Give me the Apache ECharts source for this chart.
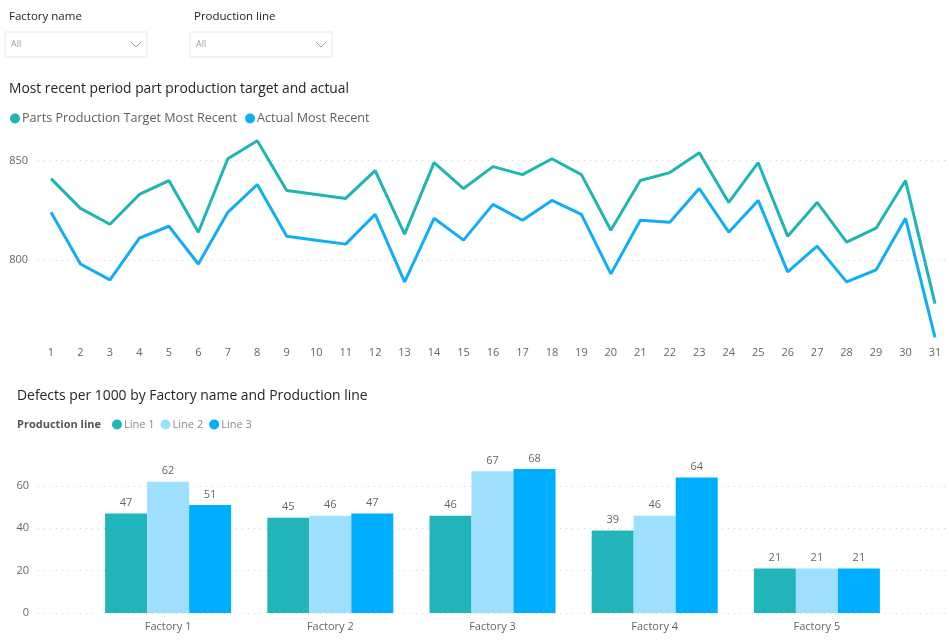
<!DOCTYPE html>
<html>
<head>
<meta charset="utf-8">
<script src="https://cdn.jsdelivr.net/npm/echarts@6/dist/echarts.min.js"></script>
<style>
html,body{margin:0;padding:0;background:#fff;}
#c{width:949px;height:643px;}
</style>
</head>
<body>
<div id="c"></div>
<script>
// ---- data ----
const days = ['1','2','3','4','5','6','7','8','9','10','11','12','13','14','15','16','17','18','19','20','21','22','23','24','25','26','27','28','29','30','31'];
const targetMostRecent = [841,826,818,833,840,814,851,860,835,833,831,845,813,849,836,847,843,851,843,815,840,844,854,829,849,812,829,809,816,840,778];
const actualMostRecent = [824,798,790,811,817,798,824,838,812,810,808,823,789,821,810,828,820,830,823,793,820,819,836,814,830,794,807,789,795,821,761];
const factories = ['Factory 1','Factory 2','Factory 3','Factory 4','Factory 5'];
const line1 = [47,45,46,39,21];
const line2 = [62,46,67,46,21];
const line3 = [51,47,68,64,21];
const lineTicks = [800,850];
const barTicks = [0,20,40,60];

const FONT = '"Open Sans","Noto Sans",sans-serif';
const GRAY = '#666666';
const DARK = '#252423';

// line chart vertical layout: value -> pixel
const pxPerUnit = 1.986, y850 = 160.7;
const yLine = v => y850 + (850 - v) * pxPerUnit;
const lineMax = 870, lineBgMin = 750, lineFgMin = 760;
// bar chart layout
const barTop = 443.7, barBottom = 30;

const chart = echarts.init(document.getElementById('c'));

function slicer(x, label) {
  return [
    {type:'text', left:x+4, top:11, style:{text:label, font:'11.5px '+FONT, fill:DARK}},
    {type:'rect', shape:{x:x, y:32, width:142, height:25}, style:{fill:'#fff', stroke:'#E6E6E6', lineWidth:1}},
    {type:'text', left:x+6, top:40, style:{text:'All', font:'9px '+FONT, fill:'#9a9a9a'}},
    {type:'polyline', shape:{points:[[x+126,42],[x+131,47],[x+136,42]]}, style:{stroke:'#a0a0a0', lineWidth:1, fill:null}}
  ];
}

const dotted = {color:'#D3D3D3', type:[1,5], width:1};

chart.setOption({
  animation:false,
  textStyle:{fontFamily:FONT},
  title:[
    {text:'Most recent period part production target and actual', left:4, top:77, textStyle:{fontSize:13.8, fontWeight:'normal', color:DARK, fontFamily:FONT}},
    {text:'Defects per 1000 by Factory name and Production line', left:12, top:384, textStyle:{fontSize:13.9, fontWeight:'normal', color:DARK, fontFamily:FONT}},
    {text:'Production line', left:12, top:414, textStyle:{fontSize:11, fontWeight:'bold', color:'#555', fontFamily:FONT}}
  ],
  legend:[
    {data:['Parts Production Target Most Recent','Actual Most Recent'], left:5, top:107, icon:'circle', itemWidth:10, itemHeight:10, itemGap:8,
     textStyle:{fontSize:12.6, color:'#605E5C', fontFamily:FONT, padding:[0,0,0,-3]}},
    {data:['Line 1','Line 2','Line 3'], left:107, top:414, icon:'circle', itemWidth:10, itemHeight:10, itemGap:6,
     textStyle:{fontSize:11, color:'#8a8a8a', fontFamily:FONT, padding:[0,0,0,-3]}}
  ],
  graphic: [].concat(slicer(5,'Factory name'), slicer(190,'Production line')),
  grid:[
    {left:38, right:4, top:yLine(lineMax), bottom:643 - yLine(lineBgMin)},
    {left:51, right:14, top:yLine(lineMax), bottom:643 - yLine(lineFgMin)},
    {left:38, right:4, top:barTop, bottom:barBottom},
    {left:87, right:51, top:barTop, bottom:barBottom}
  ],
  xAxis:[
    {gridIndex:0, type:'value', show:false, min:0, max:1},
    {gridIndex:1, type:'category', data:days, boundaryGap:false,
     axisLine:{show:false}, axisTick:{show:false},
     axisLabel:{color:GRAY, fontSize:11, margin:8, interval:0}},
    {gridIndex:2, type:'value', show:false, min:0, max:1},
    {gridIndex:3, type:'category', data:factories,
     axisLine:{show:false}, axisTick:{show:false},
     axisLabel:{color:GRAY, fontSize:11, margin:8}}
  ],
  yAxis:[
    {gridIndex:0, type:'value', min:lineBgMin, max:lineMax, interval:50,
     axisLine:{show:false}, axisTick:{show:false},
     axisLabel:{color:GRAY, fontSize:11, margin:10, showMinLabel:false, showMaxLabel:false,
       formatter: v => lineTicks.includes(v) ? String(v) : ''},
     splitLine:{show:true, lineStyle:dotted, showMinLine:false, showMaxLine:false}},
    {gridIndex:1, type:'value', min:lineFgMin, max:lineMax, show:false, splitLine:{show:false}},
    {gridIndex:2, type:'value', min:0, max:80, interval:20,
     axisLine:{show:false}, axisTick:{show:false},
     axisLabel:{color:GRAY, fontSize:11, margin:9, showMaxLabel:false,
       formatter: v => barTicks.includes(v) ? String(v) : ''},
     splitLine:{show:true, lineStyle:dotted, showMaxLine:false}},
    {gridIndex:3, type:'value', min:0, max:80, show:false, splitLine:{show:false}}
  ],
  series:[
    {name:'Parts Production Target Most Recent', type:'line', xAxisIndex:1, yAxisIndex:1, data:targetMostRecent,
     color:'#1FB5B2', symbol:'none', lineStyle:{width:3, color:'#1FB5B2'}},
    {name:'Actual Most Recent', type:'line', xAxisIndex:1, yAxisIndex:1, data:actualMostRecent,
     color:'#12ADF7', symbol:'none', lineStyle:{width:3, color:'#12ADF7'}},
    {name:'Line 1', type:'bar', xAxisIndex:3, yAxisIndex:3, data:line1, barWidth:42, barGap:'0%', color:'#21B4B9',
     label:{show:true, position:'top', distance:5, color:GRAY, fontSize:11}},
    {name:'Line 2', type:'bar', xAxisIndex:3, yAxisIndex:3, data:line2, barWidth:42, barGap:'0%', color:'#9EDEFF',
     label:{show:true, position:'top', distance:5, color:GRAY, fontSize:11}},
    {name:'Line 3', type:'bar', xAxisIndex:3, yAxisIndex:3, data:line3, barWidth:42, barGap:'0%', color:'#00AEFF',
     label:{show:true, position:'top', distance:5, color:GRAY, fontSize:11}}
  ]
});
</script>
</body>
</html>
